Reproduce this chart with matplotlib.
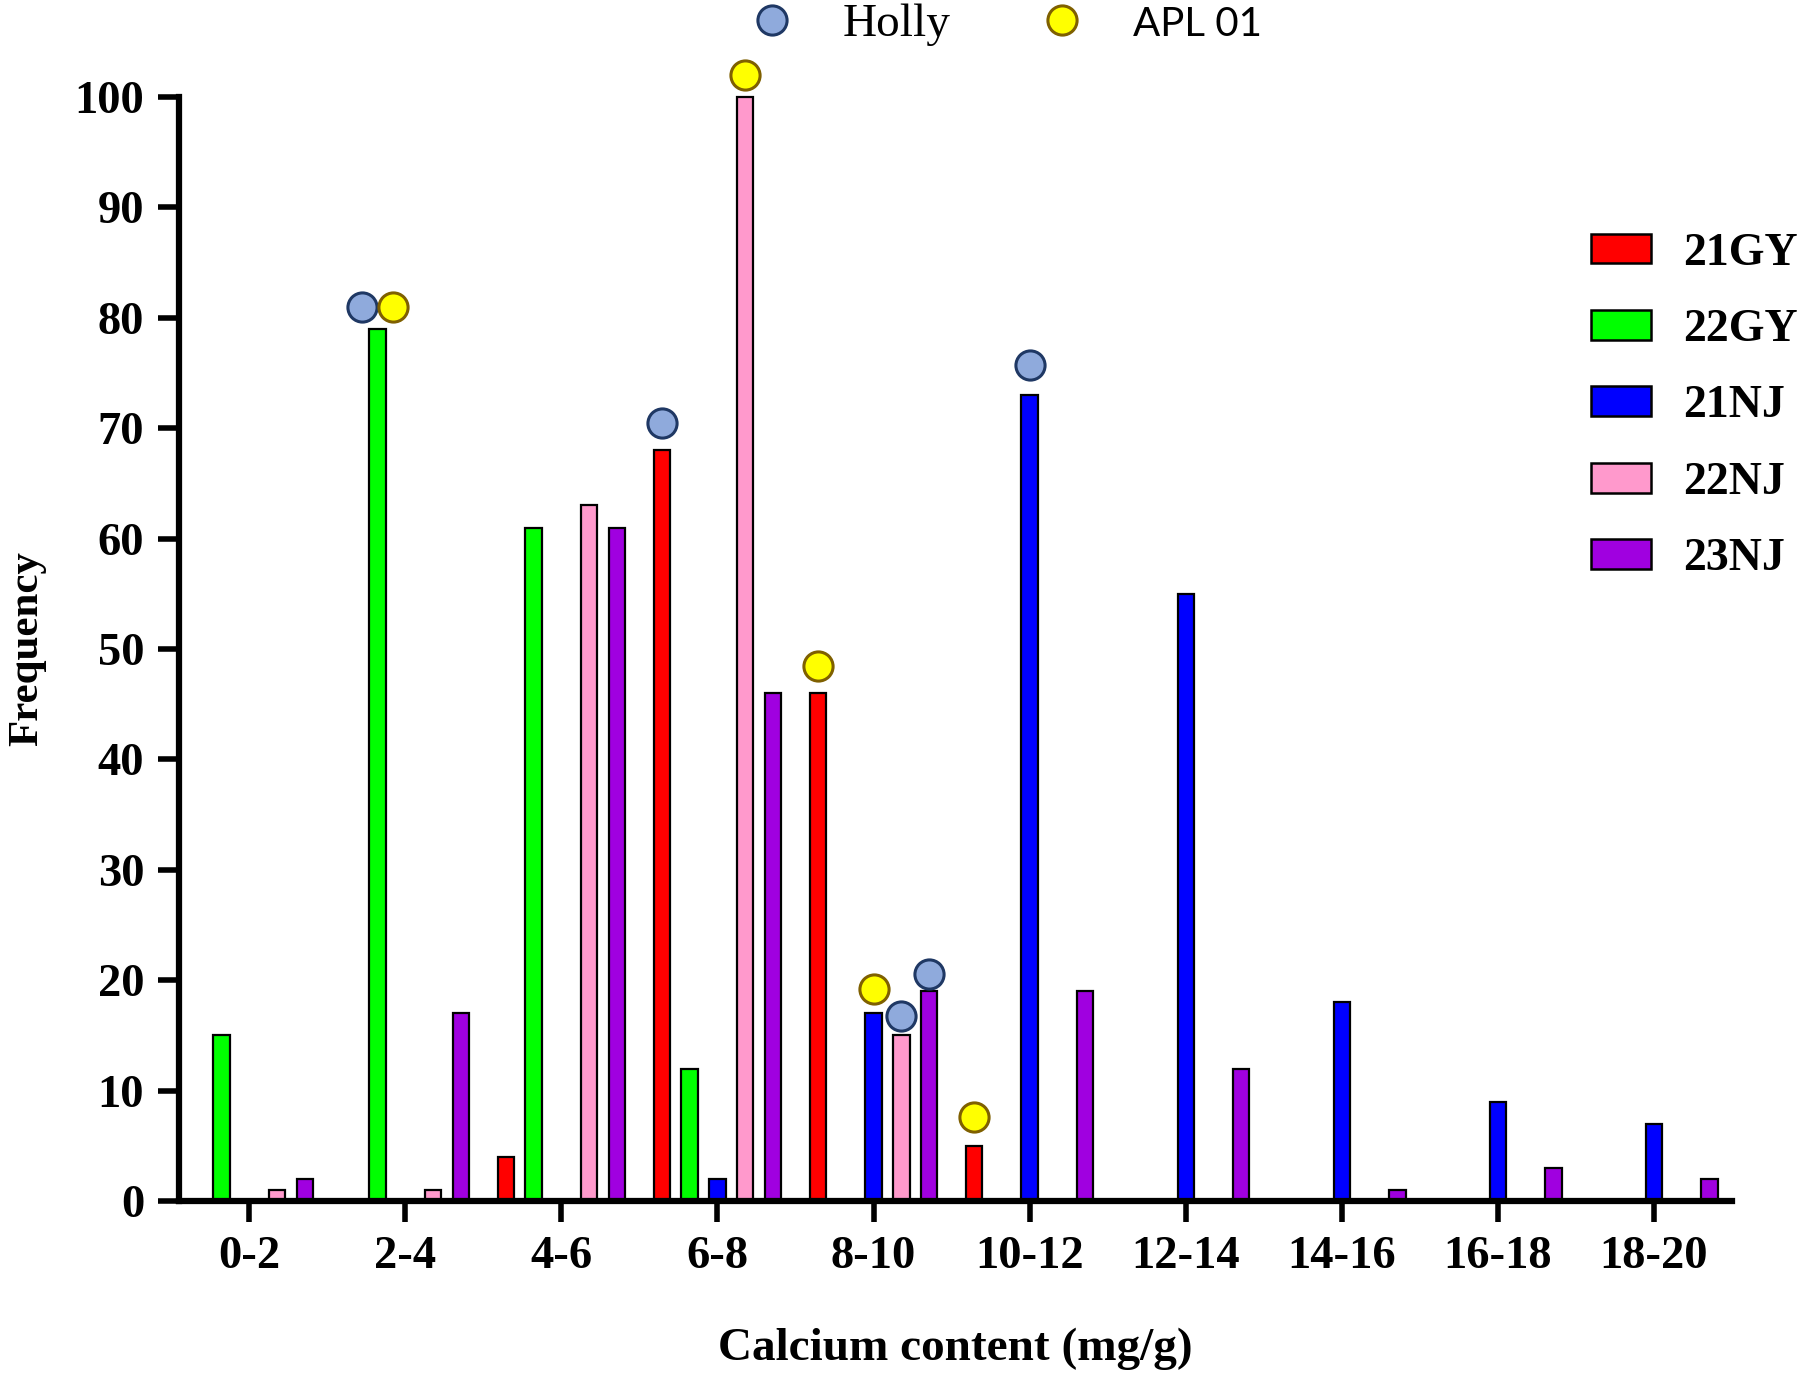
import matplotlib.pyplot as plt
import numpy as np
from matplotlib.patches import Patch
from matplotlib.lines import Line2D

# calcium content bins
bins = ['0-2', '2-4', '4-6', '6-8', '8-10', '10-12', '12-14', '14-16', '16-18', '18-20']

# frequency per bin for each sample
gy21 = [0, 0, 4, 68, 46, 5, 0, 0, 0, 0]
gy22 = [15, 79, 61, 12, 0, 0, 0, 0, 0, 0]
nj21 = [0, 0, 0, 2, 17, 73, 55, 18, 9, 7]
nj22 = [1, 1, 63, 100, 15, 0, 0, 0, 0, 0]
nj23 = [2, 17, 61, 46, 19, 19, 12, 1, 3, 2]

series_names = ['21GY', '22GY', '21NJ', '22NJ', '23NJ']
series_colors = ['#FF0000', '#00FF00', '#0000FF', '#FF99CC', '#A000E0']

# variety markers: (bin, series, y)
holly_bin = ['2-4', '6-8', '8-10', '8-10', '10-12']
holly_series = ['22GY', '21GY', '22NJ', '23NJ', '21NJ']
holly_y = [81, 70.5, 16.8, 20.6, 75.7]

apl_bin = ['2-4', '6-8', '8-10', '8-10', '10-12']
apl_series = ['22GY', '22NJ', '21GY', '21NJ', '21GY']
apl_y = [81, 102, 48.5, 19.2, 7.6]

serif = 'Liberation Serif'

fig = plt.figure(figsize=(18.11, 13.8), dpi=100)
ax = fig.add_axes([0.0988, 0.1297, 0.8576, 0.8])

x = np.arange(len(bins))
step = 0.178
width = 0.105
data = [gy21, gy22, nj21, nj22, nj23]
for k, (vals, name, col) in enumerate(zip(data, series_names, series_colors)):
    ax.bar(x + (k - 2) * step, vals, width=width, color=col, edgecolor='black',
           linewidth=1.6, label=name, clip_on=False, zorder=2)

def marker_x(b, s, nudge):
    return bins.index(b) + (series_names.index(s) - 2) * step + nudge

# Holly and APL 01 sit side by side above the 2-4 green bar
hx = [marker_x(b, s, -0.1 if b == '2-4' else 0) for b, s in zip(holly_bin, holly_series)]
axx = [marker_x(b, s, 0.1 if b == '2-4' else 0) for b, s in zip(apl_bin, apl_series)]
ax.plot(hx, holly_y, 'o', ms=21, mfc='#8FAADC', mec='#1F3864', mew=2.2,
        linestyle='none', clip_on=False, zorder=3)
ax.plot(axx, apl_y, 'o', ms=21, mfc='#FFFF00', mec='#7F6000', mew=2.2,
        linestyle='none', clip_on=False, zorder=3)

ax.set_xlim(-0.45, 9.5)
ax.set_ylim(0, 100)
ax.set_xticks(x)
ax.set_xticklabels(bins)
ax.set_yticks(np.arange(0, 101, 10))

for side in ['top', 'right']:
    ax.spines[side].set_visible(False)
for side in ['left', 'bottom']:
    ax.spines[side].set_linewidth(4.5)
ax.tick_params(axis='both', width=4, length=15, direction='out', pad=10)
for lab in ax.get_xticklabels() + ax.get_yticklabels():
    lab.set_fontfamily(serif)
    lab.set_fontweight('bold')
    lab.set_fontsize(33.5)

ax.set_xlabel('Calcium content (mg/g)', fontfamily=serif, fontweight='bold',
              fontsize=34, labelpad=36)
ax.set_ylabel('Frequency', fontfamily=serif, fontweight='bold', fontsize=31,
              labelpad=20)

# sample legend on the right
handles = [Patch(facecolor=c, edgecolor='black', linewidth=1.8) for c in series_colors]
leg = fig.legend(handles, series_names, loc='upper left', bbox_to_anchor=(0.866, 0.848),
                 frameon=False, handlelength=1.3, handleheight=0.62, labelspacing=0.75,
                 handletextpad=0.7, borderpad=0,
                 prop={'family': serif, 'weight': 'bold', 'size': 33})

# variety legend on top
vh = [Line2D([], [], marker='o', ls='none', ms=21, mfc='#8FAADC', mec='#1F3864', mew=2.2),
      Line2D([], [], marker='o', ls='none', ms=21, mfc='#FFFF00', mec='#7F6000', mew=2.2)]
leg2 = fig.legend(vh, ['Holly', 'APL 01'], loc='center left', bbox_to_anchor=(0.387, 0.982),
                  ncol=2, frameon=False, handletextpad=0.5, columnspacing=1.36,
                  borderpad=0, prop={'family': serif, 'size': 34})
leg2.get_texts()[1].set_fontfamily('Lato')
leg2.get_texts()[1].set_fontsize(29)

fig.savefig('out.png', dpi=100)
